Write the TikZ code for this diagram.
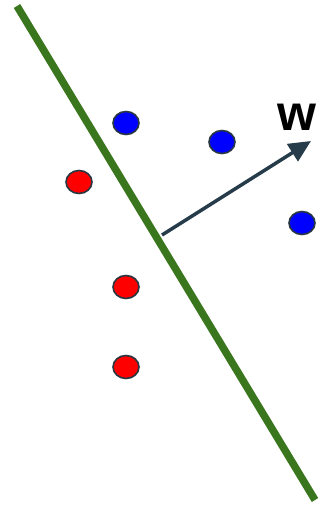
\documentclass[tikz,border=0pt]{standalone}
\usepackage{fontspec}
\setmainfont{Liberation Sans}
\usetikzlibrary{arrows.meta,shapes.geometric}
\definecolor{sepgreen}{RGB}{58,118,30}
\definecolor{vecgray}{RGB}{38,60,74}
\definecolor{dotedge}{RGB}{40,55,65}
\tikzset{
  pt/.style={ellipse, draw=dotedge, line width=1.6pt, minimum width=26pt, minimum height=23pt, inner sep=0pt},
  bluept/.style={pt, fill=blue},
  redpt/.style={pt, fill=red},
}
\begin{document}
\begin{tikzpicture}[x=1pt,y=-1pt]
\useasboundingbox (0,0) rectangle (327,507);
\coordinate (lt) at (17,6);
\coordinate (lb) at (315,500);
\draw[sepgreen, line width=7.5pt] (lt) -- (lb);
\node[bluept] (b1) at (126,123) {};
\node[bluept] (b2) at (222,142) {};
\node[bluept] (b3) at (302,223) {};
\node[redpt] (r1) at (79,182) {};
\node[redpt] (r2) at (126,287) {};
\node[redpt] (r3) at (126,367) {};
\coordinate (ws) at (162,235);
\coordinate (we) at (311,141);
\draw[vecgray, line width=3.5pt, -{Triangle[length=22pt,width=20pt]}] (ws) -- (we);
\node[font=\bfseries\fontsize{50}{50}\selectfont, inner sep=0pt] (wl) at (297,117) {w};
\end{tikzpicture}
\end{document}
